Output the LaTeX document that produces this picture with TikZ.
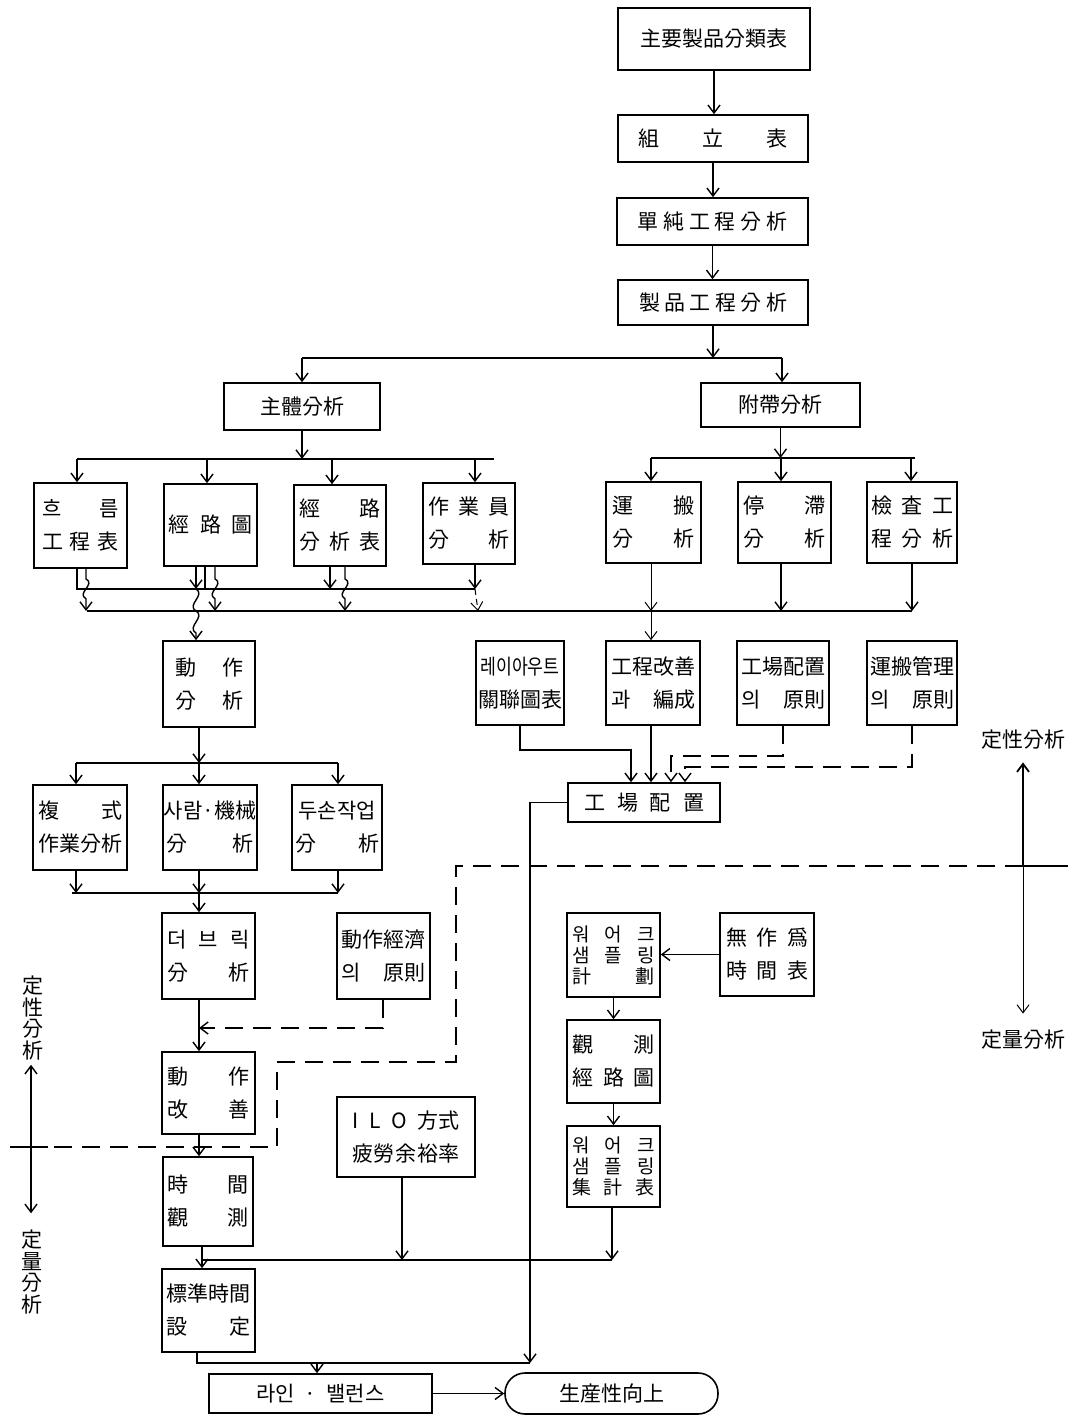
\documentclass[tikz,border=0pt]{standalone}
\usepackage{fontspec}
\usepackage{graphicx}
\setmainfont{Noto Sans CJK KR}
\usetikzlibrary{arrows.meta}
\newcommand\jl[2][41pt]{\makebox[#1][s]{#2}}
\newcommand\bx[7][]{\node[bx,minimum width={(#5-#3)*0.5pt},minimum height={(#6-#4)*0.5pt},#1] (#2) at ({(#3+#5)/2},{(#4+#6)/2}) {#7};}
\tikzset{
 bx/.style={draw,line width=0.8pt,inner sep=0pt,align=center,font=\fontsize{10.5}{16.5}\selectfont},
 arr/.style={-{Straight Barb[length=4pt,width=6pt]}},
 dsh/.style={dash pattern=on 9pt off 5pt},
 lbl/.style={inner sep=2pt,align=center,font=\fontsize{10.5}{10.8}\selectfont},
 small/.style={font=\fontsize{9.5}{10.5}\selectfont}
}
\begin{document}
\begin{tikzpicture}[x=0.5pt,y=-0.5pt,line width=0.7pt]
\useasboundingbox (0,0) rectangle (1086,1416);
\fill[white] (0,0) rectangle (1086,1416);
% ---- boxes
\bx{b1}{618}{8}{810}{70}{主要製品分類表}
\bx{b2}{618}{115}{808}{162}{\jl[75pt]{組\hfill 立\hfill 表}}
\bx{b3}{617}{198}{808}{245}{\jl[75pt]{單\hfill 純\hfill 工\hfill 程\hfill 分\hfill 析}}
\bx{b4}{618}{280}{808}{325}{\jl[74pt]{製\hfill 品\hfill 工\hfill 程\hfill 分\hfill 析}}
\bx{ma}{224}{383}{380}{430}{主體分析}
\bx{fa}{701}{383}{860}{427}{附帶分析}
\bx{h1}{34}{483}{127}{568}{\jl[38pt]{흐\hfill 름}\\\jl[38pt]{工\hfill 程\hfill 表}}
\bx{h2}{164}{484}{257}{566}{\jl[42pt]{經\hfill 路\hfill 圖}}
\bx{h3}{294}{485}{386}{566}{\jl{經\hfill 路}\\\jl{分\hfill 析\hfill 表}}
\bx{h4}{423}{483}{515}{564}{\jl{作\hfill 業\hfill 員}\\\jl{分\hfill 析}}
\bx{r1}{606}{482}{701}{563}{\jl{運\hfill 搬}\\\jl{分\hfill 析}}
\bx{r2}{738}{482}{831}{563}{\jl{停\hfill 滯}\\\jl{分\hfill 析}}
\bx{r3}{867}{482}{957}{563}{\jl{檢\hfill 査\hfill 工}\\\jl{程\hfill 分\hfill 析}}
\bx{da}{163}{641}{255}{727}{\jl[34pt]{動\hfill 作}\\\jl[34pt]{分\hfill 析}}
\bx{c1}{33}{785}{127}{870}{\jl[42pt]{複\hfill 式}\\作業分析}
\bx{c2}{163}{785}{257}{870}{사람·機械\\\jl[44pt]{分\hfill 析}}
\bx{c3}{292}{785}{382}{870}{두손작업\\\jl[42pt]{分\hfill 析}}
\bx{tb}{162}{913}{255}{999}{\jl{더\hfill 브\hfill 릭}\\\jl{分\hfill 析}}
\bx{me}{337}{913}{430}{999}{動作經濟\\\jl[42pt]{의\hfill 原則}}
\bx{mi}{162}{1052}{255}{1134}{\jl{動\hfill 作}\\\jl{改\hfill 善}}
\bx{tm}{163}{1157}{253}{1246}{\jl{時\hfill 間}\\\jl{觀\hfill 測}}
\bx{il}{337}{1097}{475}{1177}{\jl[54pt]{I\hfill L\hfill O\hfill 方式}\\\jl[54pt]{疲\hfill 勞\hfill 余\hfill 裕\hfill 率}}
\bx{st}{162}{1269}{255}{1352}{標準時間\\\jl[42pt]{設\hfill 定}}
\bx{lb}{209}{1374}{432}{1413}{\jl[64pt]{라인\hfill ·\hfill 밸런스}}
\bx[rounded corners=10pt]{pi}{505}{1373}{718}{1414}{生産性向上}
\bx{la}{476}{641}{564}{725}{\scalebox{0.82}[1]{레이아우트}\\關聯圖表}
\bx{pk}{606}{641}{700}{725}{工程改善\\\jl[42pt]{과\hfill 編成}}
\bx{pp}{737}{641}{829}{725}{工場配置\\\jl[42pt]{의\hfill 原則}}
\bx{tp}{867}{641}{957}{725}{運搬管理\\\jl[42pt]{의\hfill 原則}}
\bx{fl}{568}{783}{720}{822}{\jl[60pt]{工\hfill 場\hfill 配\hfill 置}}
\bx[small]{ws}{567}{913}{660}{997}{\jl{워\hfill 어\hfill 크}\\\jl{샘\hfill 플\hfill 링}\\\jl{計\hfill 劃}}
\bx{nt}{720}{913}{814}{996}{\jl{無\hfill 作\hfill 爲}\\\jl{時\hfill 間\hfill 表}}
\bx{ob}{567}{1020}{660}{1103}{\jl{觀\hfill 測}\\\jl{經\hfill 路\hfill 圖}}
\bx[small]{wt}{567}{1126}{660}{1207}{\jl{워\hfill 어\hfill 크}\\\jl{샘\hfill 플\hfill 링}\\\jl{集\hfill 計\hfill 表}}
% ---- axis labels
\node[lbl] (qlR) at (1023,740) {定性分析};
\node[lbl] (qnR) at (1023,1040) {定量分析};
\node[lbl] (qlL) at (33,1018) {定\\性\\分\\析};
\node[lbl] (qnL) at (32,1272) {定\\量\\分\\析};
% ---- top chain
\draw[arr] (b1.south) -- (b1.south |- b2.north);
\draw[arr] (b2.south) -- (b2.south |- b3.north);
\draw[arr] (b3.south) -- (b3.south |- b4.north);
\coordinate (tL) at (302,358); \coordinate (tR) at (782,358);
\draw[arr] (b4.south) -- (b4.south |- tL);
\draw (tL) -- (tR);
\draw[arr] (tL) -- (tL |- ma.north);
\draw[arr] (tR) -- (tR |- fa.north);
% ---- main analysis children
\coordinate (m0) at (302,459); \coordinate (m1) at (77,459); \coordinate (m2) at (207,459);
\coordinate (m3) at (332,459); \coordinate (m4) at (475,459); \coordinate (m5) at (494,459);
\draw[arr] (ma.south) -- (m0);
\draw (m1) -- (m5);
\draw[arr] (m1) -- (m1 |- h1.north);
\draw[arr] (m2) -- (m2 |- h2.north);
\draw[arr] (m3) -- (m3 |- h3.north);
\draw[arr] (m4) -- (m4 |- h4.north);
% ---- incidental analysis children
\coordinate (f1) at (651,458); \coordinate (f2) at (781,458); \coordinate (f3) at (911,458); \coordinate (f4) at (915,458);
\draw[arr] (fa.south) -- (fa.south |- f2);
\draw (f1) -- (f4);
\draw[arr] (f1) -- (f1 |- r1.north);
\draw[arr] (f2) -- (f2 |- r2.north);
\draw[arr] (f3) -- (f3 |- r3.north);
% ---- merging bars
\coordinate (uA) at (77,589); \coordinate (uE) at (475,589);
\coordinate (lA) at (87,611); \coordinate (lE) at (912,611);
\draw (h1.south -| uA) -- (uA) -- (uE);
\draw (lA) -- (lE);
\coordinate (w1) at (86,611);
\draw[arr] (h1.south -| w1) -- ++(0,10) .. controls +(10,6) and +(-10,-6) .. ++(0,20) -- (w1);
\coordinate (u2) at (196,589); \coordinate (u2b) at (205,589); \coordinate (w2) at (215,611);
\draw[arr] (h2.south -| u2) -- (u2);
\draw (h2.south -| u2b) -- (u2b);
\draw[arr] (h2.south -| w2) -- ++(0,12) .. controls +(10,6) and +(-10,-6) .. ++(0,20) -- (w2);
\draw[arr] (u2) .. controls +(10,6) and +(-10,-6) .. ++(0,22) .. controls +(10,6) and +(-10,-6) .. ++(0,22) -- (u2 |- da.north);
\coordinate (u3) at (330,589); \coordinate (w3) at (345,611);
\draw[arr] (h3.south -| u3) -- (u3);
\draw[arr] (h3.south -| w3) -- ++(0,12) .. controls +(10,6) and +(-10,-6) .. ++(0,20) -- (w3);
\coordinate (w4) at (478,611);
\draw[arr] (h4.south -| uE) -- (uE);
\draw[arr,densely dashed,line width=0.5pt] (uE) -- (w4);
\coordinate (w5) at (651,611);
\draw[arr,line width=0.5pt] (r1.south -| w5) -- (w5);
\draw[arr,line width=0.5pt] (w5) -- (w5 |- pk.north);
\draw[arr] (r2.south -| f2) -- (f2 |- lE);
\draw[arr] (r3.south -| lE) -- (lE);
% ---- motion analysis
\coordinate (d0) at (199,763); \coordinate (d1) at (76,763); \coordinate (d3) at (338,763);
\draw[arr] (da.south -| d0) -- (d0);
\draw (d1) -- (d3);
\draw[arr] (d1) -- (d1 |- c1.north);
\draw[arr] (d0) -- (d0 |- c2.north);
\draw[arr] (d3) -- (d3 |- c3.north);
\coordinate (e0) at (199,893); \coordinate (e1) at (72,893); \coordinate (e3) at (338,893);
\draw[arr] (c1.south -| d1) -- (d1 |- e0);
\draw[arr] (c2.south -| e0) -- (e0);
\draw[arr] (c3.south -| e3) -- (e3);
\draw (e1) -- (e3);
\draw[arr] (e0) -- (e0 |- tb.north);
\draw[arr] (tb.south -| e0) -- (e0 |- mi.north);
\coordinate (k1) at (383,1028);
\draw[arr,dsh] (me.south -| k1) -- (k1) -- (k1 -| e0);
\draw[arr] (mi.south -| e0) -- (e0 |- tm.north);
\coordinate (g0) at (202,1260); \coordinate (g1) at (402,1260); \coordinate (g2) at (612,1260);
\draw[arr] (tm.south -| g0) -- (g0 |- st.north);
\draw (g0) -- (g2);
\draw[arr] (il.south -| g1) -- (g1);
\draw[arr] (wt.south -| g2) -- (g2);
\coordinate (s0) at (197,1363); \coordinate (s1) at (317,1363); \coordinate (s2) at (530,1363);
\draw (st.south -| s0) -- (s0) -- (s2);
\draw[arr] (s1) -- (s1 |- lb.north);
\draw[arr] (fl.west) -- (fl.west -| s2) -- (s2);
\draw[arr] (lb.east) -- (lb.east -| pi.west);
% ---- into plant layout
\coordinate (q1) at (631,750);
\draw[arr] (la.south) -- (la.south |- q1) -- (q1) -- (q1 |- fl.north);
\draw[arr] (pk.south -| w5) -- (w5 |- fl.north);
\coordinate (q3) at (671,756);
\draw[arr,dsh] (pp.south) -- (pp.south |- q3) -- (q3) -- (q3 |- fl.north);
\coordinate (q4) at (685,767);
\draw[arr,dsh] (tp.south) -- (tp.south |- q4) -- (q4) -- (q4 |- fl.north);
% ---- work sampling
\draw[arr] (nt.west) -- (nt.west -| ws.east);
\draw[arr] (ws.south) -- (ws.south |- ob.north);
\draw[arr] (ob.south) -- (ob.south |- wt.north);
% ---- boundary qualitative / quantitative
\coordinate (xr) at (1068,866); \coordinate (xa) at (1023,866);
\coordinate (xc1) at (456,866); \coordinate (xc2) at (456,1062);
\coordinate (xc3) at (277,1062); \coordinate (xc4) at (277,1147);
\coordinate (xl1) at (48,1147); \coordinate (xl0) at (10,1147); \coordinate (xla) at (31,1147);
\draw (xa) -- (xr);
\draw[dsh] (xa) -- (xc1) -- (xc2) -- (xc3) -- (xc4) -- (xl1);
\draw (xl1) -- (xl0);
\draw[arr,line width=0.9pt,shorten >=4pt] (xa) -- (qlR.south);
\draw[arr,line width=0.5pt,shorten >=6pt] (xa) -- (qnR.north);
\draw[arr] (xla) -- (xla |- qlL.south);
\draw[arr,shorten >=6pt] (xla) -- (xla |- qnL.north);
\end{tikzpicture}
\end{document}
